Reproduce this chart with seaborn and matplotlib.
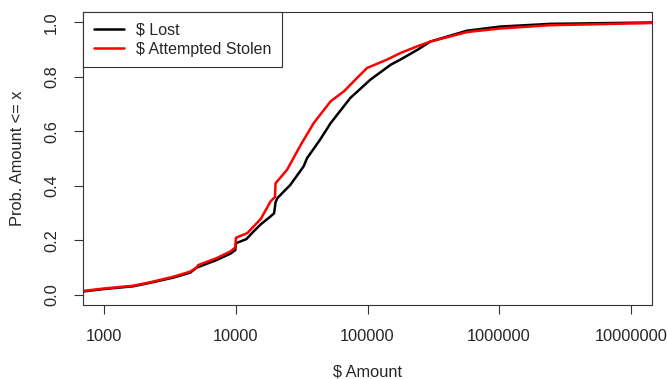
import numpy as np
import pandas as pd
from matplotlib import pyplot as plt
from matplotlib.ticker import FixedLocator, FixedFormatter
import seaborn as sns

# ECDF points
lost_amount = [692, 1000, 1660, 2240, 3350, 4500, 5000, 7100, 9100, 9900, 10000,
               12000, 13600, 15500, 18300, 19500, 20000, 20600, 25900, 32700, 34700,
               43600, 52500, 74000, 105000, 150000, 178000, 240000, 300000, 572000,
               1020000, 2450000, 14400000]
lost_prob = [0.013, 0.022, 0.032, 0.045, 0.064, 0.082, 0.100, 0.128, 0.152, 0.165, 0.190,
             0.205, 0.233, 0.260, 0.288, 0.300, 0.340, 0.355, 0.404, 0.472, 0.502,
             0.570, 0.631, 0.723, 0.790, 0.845, 0.864, 0.900, 0.930, 0.970,
             0.985, 0.995, 1.000]

stolen_amount = [692, 1000, 1660, 2240, 3350, 4500, 5000, 5180, 7100, 9100, 9900, 10000,
                 12200, 15500, 18300, 19800, 20000, 24500, 31000, 39000, 52500, 66000,
                 99000, 141000, 178000, 240000, 300000, 572000, 1020000, 2450000, 14400000]
stolen_prob = [0.015, 0.024, 0.034, 0.047, 0.067, 0.086, 0.100, 0.110, 0.135, 0.160, 0.175, 0.210,
               0.227, 0.280, 0.343, 0.360, 0.410, 0.460, 0.550, 0.631, 0.711, 0.747,
               0.833, 0.864, 0.888, 0.913, 0.930, 0.965, 0.978, 0.990, 0.998]

x_ticks = [1000, 10000, 100000, 1000000, 10000000]
x_tick_labels = ['1000', '10000', '100000', '1000000', '10000000']
y_ticks = [0.0, 0.2, 0.4, 0.6, 0.8, 1.0]

sns.set_style('white')
plt.rcParams['font.family'] = ['Liberation Sans', 'DejaVu Sans']

fig = plt.figure(figsize=(6.68, 3.79), dpi=100)
ax = fig.add_axes([83.3 / 668, 1 - 305 / 379, (651.7 - 83.3) / 668, (305 - 12.3) / 379])

df_lost = pd.DataFrame({'amount': lost_amount, 'prob': lost_prob})
df_stolen = pd.DataFrame({'amount': stolen_amount, 'prob': stolen_prob})

sns.lineplot(data=df_lost, x='amount', y='prob', color='black', linewidth=1.8,
             label='$ Lost', sort=False, estimator=None, ax=ax)
sns.lineplot(data=df_stolen, x='amount', y='prob', color='red', linewidth=1.8,
             label='$ Attempted Stolen', sort=False, estimator=None, ax=ax)

ax.set_xscale('log')
ax.set_xlim(692, 1.444e7)
ax.set_ylim(-0.0367, 1.0374)

ax.xaxis.set_major_locator(FixedLocator(x_ticks))
ax.xaxis.set_major_formatter(FixedFormatter(x_tick_labels))
ax.xaxis.set_minor_locator(FixedLocator([]))
ax.set_yticks(y_ticks)
ax.set_yticklabels(['0.0', '0.2', '0.4', '0.6', '0.8', '1.0'], rotation=90, va='center')

fs = 11.8
ax.tick_params(axis='both', which='major', direction='out', length=6.5, width=0.8,
               color='#333333', labelsize=fs, pad=11, bottom=True, left=True)
for s in ax.spines.values():
    s.set_color('#333333')
    s.set_linewidth(0.8)

ax.set_xlabel('$ Amount', fontsize=fs)
ax.set_ylabel('Prob. Amount <= x', fontsize=fs)
ax.xaxis.set_label_coords(0.5, (305 - 372) / 292.7)
ax.xaxis.label.set_va('center')
ax.yaxis.set_label_coords((18 - 83.3) / 568.4, 0.5)
ax.yaxis.label.set_va('center')

leg = ax.legend(loc='upper left', bbox_to_anchor=(0, 1), borderaxespad=0, fontsize=11.5,
                frameon=True, fancybox=False, framealpha=1, edgecolor='#333333',
                handlelength=1.9, handletextpad=0.75, borderpad=0.65, labelspacing=0.25)
leg.get_frame().set_linewidth(0.8)

fig.savefig('out.png', dpi=100)
